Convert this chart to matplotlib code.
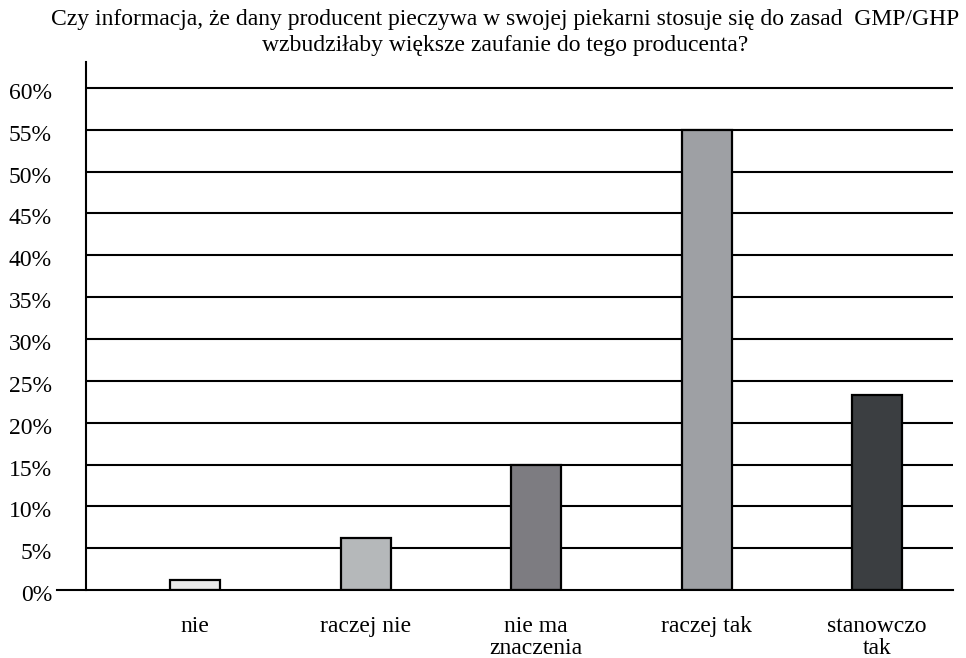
import matplotlib.pyplot as plt
import matplotlib.transforms as mtransforms

plt.rcParams['font.family'] = ['Liberation Serif', 'DejaVu Serif']

categories = ['nie', 'raczej nie', 'nie ma\nznaczenia', 'raczej tak', 'stanowczo\ntak']
values = [1.2, 6.2, 15.0, 55.0, 23.3]
colors = ['#ebebeb', '#b5b8ba', '#7d7c81', '#9ea0a4', '#3b3e41']
yticks = list(range(0, 61, 5))
ytick_labels = ['%d%%' % v for v in yticks]
title = ('Czy informacja, że dany producent pieczywa w swojej piekarni stosuje się do zasad  GMP/GHP\n'
         'wzbudziłaby większe zaufanie do tego producenta?')

fig = plt.figure(figsize=(9.66, 6.58), dpi=100)
ax = fig.add_axes([0.089, 0.1033, 0.8975, 0.8025])

x = range(len(categories))
ax.bar(x, values, width=0.293, color=colors, edgecolor='black', linewidth=1.6, zorder=3)

ax.set_xlim(-0.64, 4.445)
ax.set_ylim(0, 63.1)
ax.set_yticks(yticks)
ax.set_yticklabels(ytick_labels, fontsize=17)
ax.set_xticks(list(x))
ax.set_xticklabels(categories, fontsize=17, linespacing=1.05)
ax.tick_params(axis='y', length=0, pad=24.5)
ax.tick_params(axis='x', length=0, pad=19)

# nudge y labels down a little
offset = mtransforms.ScaledTranslation(0, -3 / 100, fig.dpi_scale_trans)
for lab in ax.get_yticklabels():
    lab.set_transform(lab.get_transform() + offset)

# horizontal grid lines
for v in yticks[1:]:
    ax.axhline(v, color='black', linewidth=1.5, zorder=1)

for side in ['top', 'right', 'bottom']:
    ax.spines[side].set_visible(False)
ax.spines['left'].set_linewidth(1.5)

# baseline reaching a bit left of the axis
ax.plot([-0.033, 1], [0, 0], transform=ax.get_yaxis_transform(), color='black',
        linewidth=1.5, clip_on=False, zorder=4)

fig.text(0.523, 0.986, title, ha='center', va='top', fontsize=17, linespacing=1.3)

fig.savefig('out.png', dpi=100)
